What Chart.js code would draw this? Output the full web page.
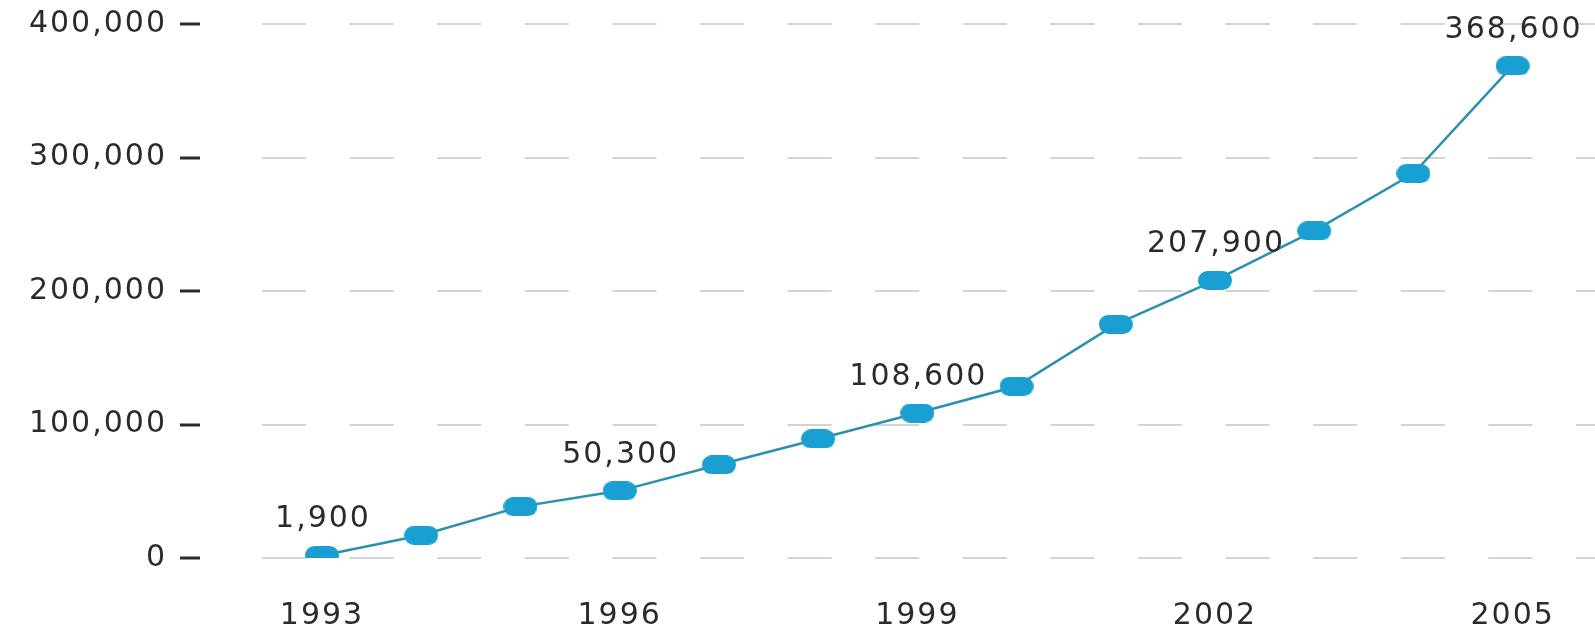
<!DOCTYPE html>
<html>
<head>
<meta charset="utf-8">
<script src="https://cdn.jsdelivr.net/npm/chart.js@4/dist/chart.umd.min.js"></script>
<style>
  html, body { margin: 0; padding: 0; background: #fff; }
  #wrap { width: 1595px; height: 625px; position: relative; }
</style>
</head>
<body>
<div id="wrap"><canvas id="myChart"></canvas></div>
<script>
let years = [1993, 1994, 1995, 1996, 1997, 1998, 1999, 2000, 2001, 2002, 2003, 2004, 2005];
let amounts = [1900, 17000, 38500, 50300, 69800, 89200, 108600, 128600, 175000, 207900, 245000, 288000, 368600];
let yearTicks = [1993, 1996, 1999, 2002, 2005];
let labeledYears = [1993, 1996, 1999, 2002, 2005];
let valueTicks = [0, 100000, 200000, 300000, 400000];

const textColor = '#2b2b2b';
const fontFamily = '"DejaVu Sans", Verdana, sans-serif';
const spacing = '2px';

// pill shaped marker, the library draws it at each point
let marker = document.createElement('canvas');
marker.width = 34;
marker.height = 19;
let mctx = marker.getContext('2d');
mctx.fillStyle = '#1a9fd2';
mctx.beginPath();
mctx.roundRect(0, 0, 34, 19, 9.5);
mctx.fill();

let wideText = {
    id: 'wideText',
    beforeDraw: function (chart) {
        chart.ctx.letterSpacing = spacing;
    }
};

let valueLabels = {
    id: 'valueLabels',
    afterDatasetsDraw: function (chart) {
        let ctx = chart.ctx;
        let meta = chart.getDatasetMeta(0);
        ctx.save();
        ctx.letterSpacing = spacing;
        ctx.font = '30px ' + fontFamily;
        ctx.fillStyle = textColor;
        ctx.textAlign = 'center';
        ctx.textBaseline = 'middle';
        meta.data.forEach(function (pt, i) {
            if (labeledYears.indexOf(years[i]) === -1) return;
            ctx.fillText(amounts[i].toLocaleString('en-US'), pt.x + 1, pt.y - 36);
        });
        ctx.restore();
    }
};

let ctx = document.getElementById('myChart').getContext('2d');
let myChart = new Chart(ctx, {
    type: 'line',
    data: {
        datasets: [{
            data: years.map((y, i) => ({ x: y, y: amounts[i] })),
            borderColor: '#2a90b0',
            borderWidth: 2.5,
            pointStyle: marker,
            pointRadius: 10,
            pointHoverRadius: 10,
            tension: 0,
        }]
    },
    options: {
        responsive: true,
        maintainAspectRatio: false,
        animation: false,
        events: [],
        layout: {
            autoPadding: false,
            padding: { top: 24, left: 0, right: 0, bottom: 0 }
        },
        plugins: {
            legend: { display: false },
            tooltip: { enabled: false },
        },
        scales: {
            x: {
                type: 'linear',
                min: 1992.355,
                max: 2005.83,
                afterBuildTicks: function (scale) {
                    scale.ticks = yearTicks.map(v => ({ value: v }));
                },
                afterFit: function (scale) {
                    scale.height = 67;
                    scale.paddingLeft = 0;
                    scale.paddingRight = 0;
                },
                grid: { display: false, drawTicks: false },
                border: { display: false },
                ticks: {
                    autoSkip: false,
                    maxRotation: 0,
                    padding: 40,
                    color: textColor,
                    font: { family: fontFamily, size: 30 },
                    callback: v => String(v),
                },
            },
            y: {
                min: 0,
                max: 400000,
                afterBuildTicks: function (scale) {
                    scale.ticks = valueTicks.map(v => ({ value: v }));
                },
                afterFit: function (scale) {
                    scale.width = 258;
                    scale.paddingTop = 0;
                    scale.paddingBottom = 0;
                },
                grid: {
                    color: '#d3d3d3',
                    lineWidth: 2,
                    drawTicks: true,
                    tickLength: 78,
                    tickColor: '#2b2b2b',
                    tickWidth: 3,
                    tickBorderDash: [20, 58],
                },
                border: {
                    display: false,
                    dash: [44, 43.6],
                    dashOffset: 83.6,
                },
                ticks: {
                    padding: 13,
                    color: textColor,
                    font: { family: fontFamily, size: 30 },
                    callback: v => v.toLocaleString('en-US'),
                },
            },
        },
    },
    plugins: [wideText, valueLabels]
});
</script>
</body>
</html>
